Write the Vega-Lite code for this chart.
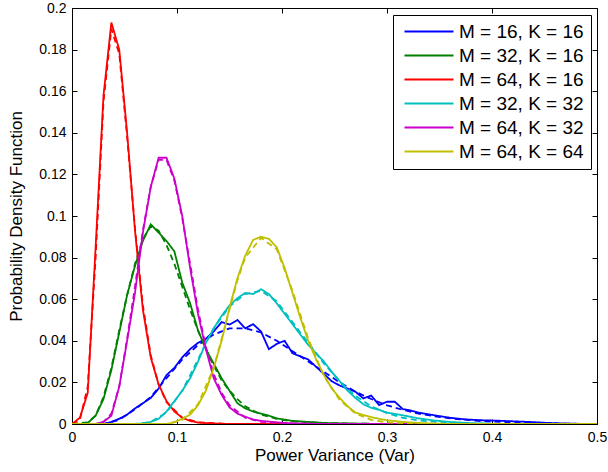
{
  "$schema": "https://vega.github.io/schema/vega-lite/v6.json",
  "width": 525,
  "height": 416,
  "autosize": {"type": "none"},
  "padding": {"left": 72, "top": 8, "right": 11, "bottom": 48},
  "background": "white",
  "config": {
    "font": "Liberation Sans",
    "view": {"stroke": "black", "strokeWidth": 1},
    "axis": {"grid": false, "domain": false, "tickColor": "black", "labelColor": "black", "titleColor": "black", "labelFontSize": 14, "titleFontSize": 17, "titleFontWeight": "normal", "tickSize": -5, "labelFlush": false, "labelOverlap": false}
  },
  "datasets": {
    "pdf": [
      {"s":"M = 16, K = 16","t":"sim","x":0,"y":0},{"s":"M = 16, K = 16","t":"sim","x":0.03,"y":0},{"s":"M = 16, K = 16","t":"sim","x":0.0375,"y":0.001},{"s":"M = 16, K = 16","t":"sim","x":0.045,"y":0.0025},{"s":"M = 16, K = 16","t":"sim","x":0.0525,"y":0.0045},{"s":"M = 16, K = 16","t":"sim","x":0.06,"y":0.0075},{"s":"M = 16, K = 16","t":"sim","x":0.0675,"y":0.01},{"s":"M = 16, K = 16","t":"sim","x":0.075,"y":0.0125},{"s":"M = 16, K = 16","t":"sim","x":0.0825,"y":0.017},{"s":"M = 16, K = 16","t":"sim","x":0.09,"y":0.0235},{"s":"M = 16, K = 16","t":"sim","x":0.0975,"y":0.027},{"s":"M = 16, K = 16","t":"sim","x":0.105,"y":0.032},{"s":"M = 16, K = 16","t":"sim","x":0.1125,"y":0.036},{"s":"M = 16, K = 16","t":"sim","x":0.12,"y":0.039},{"s":"M = 16, K = 16","t":"sim","x":0.1275,"y":0.041},{"s":"M = 16, K = 16","t":"sim","x":0.135,"y":0.0445},{"s":"M = 16, K = 16","t":"sim","x":0.1425,"y":0.049},{"s":"M = 16, K = 16","t":"sim","x":0.15,"y":0.0478},{"s":"M = 16, K = 16","t":"sim","x":0.1575,"y":0.05},{"s":"M = 16, K = 16","t":"sim","x":0.165,"y":0.046},{"s":"M = 16, K = 16","t":"sim","x":0.1725,"y":0.048},{"s":"M = 16, K = 16","t":"sim","x":0.18,"y":0.0445},{"s":"M = 16, K = 16","t":"sim","x":0.1875,"y":0.036},{"s":"M = 16, K = 16","t":"sim","x":0.195,"y":0.0385},{"s":"M = 16, K = 16","t":"sim","x":0.2025,"y":0.04},{"s":"M = 16, K = 16","t":"sim","x":0.21,"y":0.034},{"s":"M = 16, K = 16","t":"sim","x":0.2175,"y":0.0325},{"s":"M = 16, K = 16","t":"sim","x":0.225,"y":0.031},{"s":"M = 16, K = 16","t":"sim","x":0.2325,"y":0.0275},{"s":"M = 16, K = 16","t":"sim","x":0.24,"y":0.024},{"s":"M = 16, K = 16","t":"sim","x":0.2475,"y":0.0205},{"s":"M = 16, K = 16","t":"sim","x":0.255,"y":0.0185},{"s":"M = 16, K = 16","t":"sim","x":0.2625,"y":0.017},{"s":"M = 16, K = 16","t":"sim","x":0.27,"y":0.0155},{"s":"M = 16, K = 16","t":"sim","x":0.2775,"y":0.0123},{"s":"M = 16, K = 16","t":"sim","x":0.285,"y":0.0137},{"s":"M = 16, K = 16","t":"sim","x":0.2925,"y":0.0091},{"s":"M = 16, K = 16","t":"sim","x":0.3,"y":0.0107},{"s":"M = 16, K = 16","t":"sim","x":0.3075,"y":0.0107},{"s":"M = 16, K = 16","t":"sim","x":0.315,"y":0.0072},{"s":"M = 16, K = 16","t":"sim","x":0.3225,"y":0.0065},{"s":"M = 16, K = 16","t":"sim","x":0.33,"y":0.0055},{"s":"M = 16, K = 16","t":"sim","x":0.345,"y":0.0042},{"s":"M = 16, K = 16","t":"sim","x":0.36,"y":0.003},{"s":"M = 16, K = 16","t":"sim","x":0.375,"y":0.0022},{"s":"M = 16, K = 16","t":"sim","x":0.39,"y":0.0018},{"s":"M = 16, K = 16","t":"sim","x":0.405,"y":0.0016},{"s":"M = 16, K = 16","t":"sim","x":0.42,"y":0.0013},{"s":"M = 16, K = 16","t":"sim","x":0.435,"y":0.001},{"s":"M = 16, K = 16","t":"sim","x":0.45,"y":0.0006},{"s":"M = 16, K = 16","t":"sim","x":0.465,"y":0.0003},{"s":"M = 16, K = 16","t":"sim","x":0.48,"y":0.0001},{"s":"M = 16, K = 16","t":"sim","x":0.5,"y":0},
      {"s":"M = 16, K = 16","t":"theory","x":0,"y":0},{"s":"M = 16, K = 16","t":"theory","x":0.03,"y":0},{"s":"M = 16, K = 16","t":"theory","x":0.045,"y":0.002},{"s":"M = 16, K = 16","t":"theory","x":0.06,"y":0.007},{"s":"M = 16, K = 16","t":"theory","x":0.075,"y":0.013},{"s":"M = 16, K = 16","t":"theory","x":0.09,"y":0.022},{"s":"M = 16, K = 16","t":"theory","x":0.105,"y":0.031},{"s":"M = 16, K = 16","t":"theory","x":0.12,"y":0.038},{"s":"M = 16, K = 16","t":"theory","x":0.135,"y":0.043},{"s":"M = 16, K = 16","t":"theory","x":0.15,"y":0.046},{"s":"M = 16, K = 16","t":"theory","x":0.165,"y":0.046},{"s":"M = 16, K = 16","t":"theory","x":0.18,"y":0.044},{"s":"M = 16, K = 16","t":"theory","x":0.195,"y":0.04},{"s":"M = 16, K = 16","t":"theory","x":0.21,"y":0.035},{"s":"M = 16, K = 16","t":"theory","x":0.225,"y":0.03},{"s":"M = 16, K = 16","t":"theory","x":0.24,"y":0.025},{"s":"M = 16, K = 16","t":"theory","x":0.255,"y":0.02},{"s":"M = 16, K = 16","t":"theory","x":0.27,"y":0.0155},{"s":"M = 16, K = 16","t":"theory","x":0.285,"y":0.012},{"s":"M = 16, K = 16","t":"theory","x":0.3,"y":0.009},{"s":"M = 16, K = 16","t":"theory","x":0.315,"y":0.0068},{"s":"M = 16, K = 16","t":"theory","x":0.33,"y":0.005},{"s":"M = 16, K = 16","t":"theory","x":0.345,"y":0.0037},{"s":"M = 16, K = 16","t":"theory","x":0.36,"y":0.0027},{"s":"M = 16, K = 16","t":"theory","x":0.39,"y":0.0014},{"s":"M = 16, K = 16","t":"theory","x":0.42,"y":0.0007},{"s":"M = 16, K = 16","t":"theory","x":0.45,"y":0.0003},{"s":"M = 16, K = 16","t":"theory","x":0.5,"y":0},

      {"s":"M = 32, K = 16","t":"sim","x":0,"y":0},{"s":"M = 32, K = 16","t":"sim","x":0.0075,"y":0},{"s":"M = 32, K = 16","t":"sim","x":0.015,"y":0.0005},{"s":"M = 32, K = 16","t":"sim","x":0.0225,"y":0.004},{"s":"M = 32, K = 16","t":"sim","x":0.03,"y":0.012},{"s":"M = 32, K = 16","t":"sim","x":0.0375,"y":0.026},{"s":"M = 32, K = 16","t":"sim","x":0.045,"y":0.044},{"s":"M = 32, K = 16","t":"sim","x":0.0525,"y":0.062},{"s":"M = 32, K = 16","t":"sim","x":0.06,"y":0.076},{"s":"M = 32, K = 16","t":"sim","x":0.0675,"y":0.088},{"s":"M = 32, K = 16","t":"sim","x":0.075,"y":0.096},{"s":"M = 32, K = 16","t":"sim","x":0.0825,"y":0.092},{"s":"M = 32, K = 16","t":"sim","x":0.09,"y":0.088},{"s":"M = 32, K = 16","t":"sim","x":0.0975,"y":0.083},{"s":"M = 32, K = 16","t":"sim","x":0.105,"y":0.068},{"s":"M = 32, K = 16","t":"sim","x":0.1125,"y":0.058},{"s":"M = 32, K = 16","t":"sim","x":0.12,"y":0.045},{"s":"M = 32, K = 16","t":"sim","x":0.1275,"y":0.036},{"s":"M = 32, K = 16","t":"sim","x":0.135,"y":0.029},{"s":"M = 32, K = 16","t":"sim","x":0.1425,"y":0.022},{"s":"M = 32, K = 16","t":"sim","x":0.15,"y":0.016},{"s":"M = 32, K = 16","t":"sim","x":0.1575,"y":0.01},{"s":"M = 32, K = 16","t":"sim","x":0.165,"y":0.0075},{"s":"M = 32, K = 16","t":"sim","x":0.1725,"y":0.006},{"s":"M = 32, K = 16","t":"sim","x":0.18,"y":0.005},{"s":"M = 32, K = 16","t":"sim","x":0.1875,"y":0.004},{"s":"M = 32, K = 16","t":"sim","x":0.195,"y":0.0027},{"s":"M = 32, K = 16","t":"sim","x":0.21,"y":0.0015},{"s":"M = 32, K = 16","t":"sim","x":0.225,"y":0.001},{"s":"M = 32, K = 16","t":"sim","x":0.24,"y":0.0005},{"s":"M = 32, K = 16","t":"sim","x":0.27,"y":0.0002},{"s":"M = 32, K = 16","t":"sim","x":0.3,"y":0},{"s":"M = 32, K = 16","t":"sim","x":0.5,"y":0},
      {"s":"M = 32, K = 16","t":"theory","x":0,"y":0},{"s":"M = 32, K = 16","t":"theory","x":0.015,"y":0.0008},{"s":"M = 32, K = 16","t":"theory","x":0.0225,"y":0.004},{"s":"M = 32, K = 16","t":"theory","x":0.03,"y":0.013},{"s":"M = 32, K = 16","t":"theory","x":0.0375,"y":0.027},{"s":"M = 32, K = 16","t":"theory","x":0.045,"y":0.045},{"s":"M = 32, K = 16","t":"theory","x":0.0525,"y":0.062},{"s":"M = 32, K = 16","t":"theory","x":0.06,"y":0.077},{"s":"M = 32, K = 16","t":"theory","x":0.0675,"y":0.089},{"s":"M = 32, K = 16","t":"theory","x":0.075,"y":0.095},{"s":"M = 32, K = 16","t":"theory","x":0.0825,"y":0.093},{"s":"M = 32, K = 16","t":"theory","x":0.09,"y":0.086},{"s":"M = 32, K = 16","t":"theory","x":0.0975,"y":0.077},{"s":"M = 32, K = 16","t":"theory","x":0.105,"y":0.066},{"s":"M = 32, K = 16","t":"theory","x":0.1125,"y":0.055},{"s":"M = 32, K = 16","t":"theory","x":0.12,"y":0.045},{"s":"M = 32, K = 16","t":"theory","x":0.1275,"y":0.036},{"s":"M = 32, K = 16","t":"theory","x":0.135,"y":0.028},{"s":"M = 32, K = 16","t":"theory","x":0.1425,"y":0.021},{"s":"M = 32, K = 16","t":"theory","x":0.15,"y":0.016},{"s":"M = 32, K = 16","t":"theory","x":0.1575,"y":0.012},{"s":"M = 32, K = 16","t":"theory","x":0.165,"y":0.0085},{"s":"M = 32, K = 16","t":"theory","x":0.18,"y":0.0045},{"s":"M = 32, K = 16","t":"theory","x":0.195,"y":0.0025},{"s":"M = 32, K = 16","t":"theory","x":0.21,"y":0.0013},{"s":"M = 32, K = 16","t":"theory","x":0.24,"y":0.0004},{"s":"M = 32, K = 16","t":"theory","x":0.3,"y":0},{"s":"M = 32, K = 16","t":"theory","x":0.5,"y":0},

      {"s":"M = 64, K = 16","t":"sim","x":0,"y":0},{"s":"M = 64, K = 16","t":"sim","x":0.0075,"y":0.003},{"s":"M = 64, K = 16","t":"sim","x":0.015,"y":0.015},{"s":"M = 64, K = 16","t":"sim","x":0.0225,"y":0.085},{"s":"M = 64, K = 16","t":"sim","x":0.03,"y":0.158},{"s":"M = 64, K = 16","t":"sim","x":0.0375,"y":0.193},{"s":"M = 64, K = 16","t":"sim","x":0.045,"y":0.18},{"s":"M = 64, K = 16","t":"sim","x":0.0525,"y":0.14},{"s":"M = 64, K = 16","t":"sim","x":0.06,"y":0.093},{"s":"M = 64, K = 16","t":"sim","x":0.0675,"y":0.055},{"s":"M = 64, K = 16","t":"sim","x":0.075,"y":0.032},{"s":"M = 64, K = 16","t":"sim","x":0.0825,"y":0.019},{"s":"M = 64, K = 16","t":"sim","x":0.09,"y":0.011},{"s":"M = 64, K = 16","t":"sim","x":0.0975,"y":0.006},{"s":"M = 64, K = 16","t":"sim","x":0.105,"y":0.003},{"s":"M = 64, K = 16","t":"sim","x":0.1125,"y":0.0015},{"s":"M = 64, K = 16","t":"sim","x":0.12,"y":0.0007},{"s":"M = 64, K = 16","t":"sim","x":0.135,"y":0.0002},{"s":"M = 64, K = 16","t":"sim","x":0.15,"y":0},{"s":"M = 64, K = 16","t":"sim","x":0.5,"y":0},
      {"s":"M = 64, K = 16","t":"theory","x":0,"y":0},{"s":"M = 64, K = 16","t":"theory","x":0.0075,"y":0.002},{"s":"M = 64, K = 16","t":"theory","x":0.015,"y":0.018},{"s":"M = 64, K = 16","t":"theory","x":0.0225,"y":0.08},{"s":"M = 64, K = 16","t":"theory","x":0.03,"y":0.155},{"s":"M = 64, K = 16","t":"theory","x":0.0375,"y":0.19},{"s":"M = 64, K = 16","t":"theory","x":0.045,"y":0.178},{"s":"M = 64, K = 16","t":"theory","x":0.0525,"y":0.138},{"s":"M = 64, K = 16","t":"theory","x":0.06,"y":0.094},{"s":"M = 64, K = 16","t":"theory","x":0.0675,"y":0.057},{"s":"M = 64, K = 16","t":"theory","x":0.075,"y":0.033},{"s":"M = 64, K = 16","t":"theory","x":0.0825,"y":0.019},{"s":"M = 64, K = 16","t":"theory","x":0.09,"y":0.0105},{"s":"M = 64, K = 16","t":"theory","x":0.105,"y":0.003},{"s":"M = 64, K = 16","t":"theory","x":0.12,"y":0.0008},{"s":"M = 64, K = 16","t":"theory","x":0.15,"y":0},{"s":"M = 64, K = 16","t":"theory","x":0.5,"y":0},

      {"s":"M = 32, K = 32","t":"sim","x":0,"y":0},{"s":"M = 32, K = 32","t":"sim","x":0.06,"y":0},{"s":"M = 32, K = 32","t":"sim","x":0.0675,"y":0.0003},{"s":"M = 32, K = 32","t":"sim","x":0.075,"y":0.001},{"s":"M = 32, K = 32","t":"sim","x":0.0825,"y":0.0025},{"s":"M = 32, K = 32","t":"sim","x":0.09,"y":0.006},{"s":"M = 32, K = 32","t":"sim","x":0.0975,"y":0.011},{"s":"M = 32, K = 32","t":"sim","x":0.105,"y":0.016},{"s":"M = 32, K = 32","t":"sim","x":0.1125,"y":0.022},{"s":"M = 32, K = 32","t":"sim","x":0.12,"y":0.03},{"s":"M = 32, K = 32","t":"sim","x":0.1275,"y":0.039},{"s":"M = 32, K = 32","t":"sim","x":0.135,"y":0.046},{"s":"M = 32, K = 32","t":"sim","x":0.1425,"y":0.052},{"s":"M = 32, K = 32","t":"sim","x":0.15,"y":0.057},{"s":"M = 32, K = 32","t":"sim","x":0.1575,"y":0.0605},{"s":"M = 32, K = 32","t":"sim","x":0.165,"y":0.063},{"s":"M = 32, K = 32","t":"sim","x":0.1725,"y":0.0625},{"s":"M = 32, K = 32","t":"sim","x":0.18,"y":0.0648},{"s":"M = 32, K = 32","t":"sim","x":0.1875,"y":0.0625},{"s":"M = 32, K = 32","t":"sim","x":0.195,"y":0.058},{"s":"M = 32, K = 32","t":"sim","x":0.2025,"y":0.053},{"s":"M = 32, K = 32","t":"sim","x":0.21,"y":0.048},{"s":"M = 32, K = 32","t":"sim","x":0.2175,"y":0.043},{"s":"M = 32, K = 32","t":"sim","x":0.225,"y":0.038},{"s":"M = 32, K = 32","t":"sim","x":0.2325,"y":0.034},{"s":"M = 32, K = 32","t":"sim","x":0.24,"y":0.03},{"s":"M = 32, K = 32","t":"sim","x":0.2475,"y":0.025},{"s":"M = 32, K = 32","t":"sim","x":0.255,"y":0.0205},{"s":"M = 32, K = 32","t":"sim","x":0.2625,"y":0.016},{"s":"M = 32, K = 32","t":"sim","x":0.27,"y":0.0125},{"s":"M = 32, K = 32","t":"sim","x":0.2775,"y":0.0095},{"s":"M = 32, K = 32","t":"sim","x":0.285,"y":0.0078},{"s":"M = 32, K = 32","t":"sim","x":0.2925,"y":0.0068},{"s":"M = 32, K = 32","t":"sim","x":0.3,"y":0.0055},{"s":"M = 32, K = 32","t":"sim","x":0.315,"y":0.0042},{"s":"M = 32, K = 32","t":"sim","x":0.33,"y":0.0027},{"s":"M = 32, K = 32","t":"sim","x":0.345,"y":0.0017},{"s":"M = 32, K = 32","t":"sim","x":0.36,"y":0.001},{"s":"M = 32, K = 32","t":"sim","x":0.38,"y":0.0004},{"s":"M = 32, K = 32","t":"sim","x":0.4,"y":0.0001},{"s":"M = 32, K = 32","t":"sim","x":0.5,"y":0},
      {"s":"M = 32, K = 32","t":"theory","x":0,"y":0},{"s":"M = 32, K = 32","t":"theory","x":0.06,"y":0},{"s":"M = 32, K = 32","t":"theory","x":0.075,"y":0.001},{"s":"M = 32, K = 32","t":"theory","x":0.09,"y":0.0055},{"s":"M = 32, K = 32","t":"theory","x":0.105,"y":0.016},{"s":"M = 32, K = 32","t":"theory","x":0.12,"y":0.031},{"s":"M = 32, K = 32","t":"theory","x":0.1275,"y":0.039},{"s":"M = 32, K = 32","t":"theory","x":0.135,"y":0.046},{"s":"M = 32, K = 32","t":"theory","x":0.15,"y":0.0565},{"s":"M = 32, K = 32","t":"theory","x":0.165,"y":0.0625},{"s":"M = 32, K = 32","t":"theory","x":0.18,"y":0.064},{"s":"M = 32, K = 32","t":"theory","x":0.195,"y":0.059},{"s":"M = 32, K = 32","t":"theory","x":0.21,"y":0.049},{"s":"M = 32, K = 32","t":"theory","x":0.225,"y":0.039},{"s":"M = 32, K = 32","t":"theory","x":0.24,"y":0.029},{"s":"M = 32, K = 32","t":"theory","x":0.255,"y":0.0205},{"s":"M = 32, K = 32","t":"theory","x":0.27,"y":0.0135},{"s":"M = 32, K = 32","t":"theory","x":0.285,"y":0.0085},{"s":"M = 32, K = 32","t":"theory","x":0.3,"y":0.0052},{"s":"M = 32, K = 32","t":"theory","x":0.315,"y":0.003},{"s":"M = 32, K = 32","t":"theory","x":0.33,"y":0.0017},{"s":"M = 32, K = 32","t":"theory","x":0.36,"y":0.0005},{"s":"M = 32, K = 32","t":"theory","x":0.4,"y":0},{"s":"M = 32, K = 32","t":"theory","x":0.5,"y":0},

      {"s":"M = 64, K = 32","t":"sim","x":0,"y":0},{"s":"M = 64, K = 32","t":"sim","x":0.0225,"y":0},{"s":"M = 64, K = 32","t":"sim","x":0.03,"y":0.001},{"s":"M = 64, K = 32","t":"sim","x":0.0375,"y":0.004},{"s":"M = 64, K = 32","t":"sim","x":0.045,"y":0.018},{"s":"M = 64, K = 32","t":"sim","x":0.0525,"y":0.04},{"s":"M = 64, K = 32","t":"sim","x":0.06,"y":0.063},{"s":"M = 64, K = 32","t":"sim","x":0.0675,"y":0.092},{"s":"M = 64, K = 32","t":"sim","x":0.075,"y":0.114},{"s":"M = 64, K = 32","t":"sim","x":0.0825,"y":0.128},{"s":"M = 64, K = 32","t":"sim","x":0.09,"y":0.128},{"s":"M = 64, K = 32","t":"sim","x":0.0975,"y":0.118},{"s":"M = 64, K = 32","t":"sim","x":0.105,"y":0.1},{"s":"M = 64, K = 32","t":"sim","x":0.1125,"y":0.075},{"s":"M = 64, K = 32","t":"sim","x":0.12,"y":0.053},{"s":"M = 64, K = 32","t":"sim","x":0.1275,"y":0.036},{"s":"M = 64, K = 32","t":"sim","x":0.135,"y":0.022},{"s":"M = 64, K = 32","t":"sim","x":0.1425,"y":0.014},{"s":"M = 64, K = 32","t":"sim","x":0.15,"y":0.008},{"s":"M = 64, K = 32","t":"sim","x":0.1575,"y":0.005},{"s":"M = 64, K = 32","t":"sim","x":0.165,"y":0.0035},{"s":"M = 64, K = 32","t":"sim","x":0.1725,"y":0.0022},{"s":"M = 64, K = 32","t":"sim","x":0.18,"y":0.0015},{"s":"M = 64, K = 32","t":"sim","x":0.195,"y":0.0008},{"s":"M = 64, K = 32","t":"sim","x":0.21,"y":0.0003},{"s":"M = 64, K = 32","t":"sim","x":0.24,"y":0},{"s":"M = 64, K = 32","t":"sim","x":0.5,"y":0},
      {"s":"M = 64, K = 32","t":"theory","x":0,"y":0},{"s":"M = 64, K = 32","t":"theory","x":0.0225,"y":0},{"s":"M = 64, K = 32","t":"theory","x":0.03,"y":0.001},{"s":"M = 64, K = 32","t":"theory","x":0.0375,"y":0.005},{"s":"M = 64, K = 32","t":"theory","x":0.045,"y":0.018},{"s":"M = 64, K = 32","t":"theory","x":0.0525,"y":0.041},{"s":"M = 64, K = 32","t":"theory","x":0.06,"y":0.066},{"s":"M = 64, K = 32","t":"theory","x":0.0675,"y":0.093},{"s":"M = 64, K = 32","t":"theory","x":0.075,"y":0.114},{"s":"M = 64, K = 32","t":"theory","x":0.0825,"y":0.127},{"s":"M = 64, K = 32","t":"theory","x":0.09,"y":0.127},{"s":"M = 64, K = 32","t":"theory","x":0.0975,"y":0.117},{"s":"M = 64, K = 32","t":"theory","x":0.105,"y":0.099},{"s":"M = 64, K = 32","t":"theory","x":0.1125,"y":0.077},{"s":"M = 64, K = 32","t":"theory","x":0.12,"y":0.055},{"s":"M = 64, K = 32","t":"theory","x":0.1275,"y":0.037},{"s":"M = 64, K = 32","t":"theory","x":0.135,"y":0.024},{"s":"M = 64, K = 32","t":"theory","x":0.1425,"y":0.015},{"s":"M = 64, K = 32","t":"theory","x":0.15,"y":0.009},{"s":"M = 64, K = 32","t":"theory","x":0.165,"y":0.003},{"s":"M = 64, K = 32","t":"theory","x":0.18,"y":0.001},{"s":"M = 64, K = 32","t":"theory","x":0.21,"y":0.0002},{"s":"M = 64, K = 32","t":"theory","x":0.24,"y":0},{"s":"M = 64, K = 32","t":"theory","x":0.5,"y":0},

      {"s":"M = 64, K = 64","t":"sim","x":0,"y":0},{"s":"M = 64, K = 64","t":"sim","x":0.09,"y":0},{"s":"M = 64, K = 64","t":"sim","x":0.0975,"y":0.0008},{"s":"M = 64, K = 64","t":"sim","x":0.105,"y":0.0025},{"s":"M = 64, K = 64","t":"sim","x":0.1125,"y":0.0045},{"s":"M = 64, K = 64","t":"sim","x":0.12,"y":0.009},{"s":"M = 64, K = 64","t":"sim","x":0.1275,"y":0.016},{"s":"M = 64, K = 64","t":"sim","x":0.135,"y":0.027},{"s":"M = 64, K = 64","t":"sim","x":0.1425,"y":0.04},{"s":"M = 64, K = 64","t":"sim","x":0.15,"y":0.056},{"s":"M = 64, K = 64","t":"sim","x":0.1575,"y":0.07},{"s":"M = 64, K = 64","t":"sim","x":0.165,"y":0.081},{"s":"M = 64, K = 64","t":"sim","x":0.1725,"y":0.0885},{"s":"M = 64, K = 64","t":"sim","x":0.18,"y":0.09},{"s":"M = 64, K = 64","t":"sim","x":0.1875,"y":0.089},{"s":"M = 64, K = 64","t":"sim","x":0.195,"y":0.085},{"s":"M = 64, K = 64","t":"sim","x":0.2025,"y":0.075},{"s":"M = 64, K = 64","t":"sim","x":0.21,"y":0.063},{"s":"M = 64, K = 64","t":"sim","x":0.2175,"y":0.051},{"s":"M = 64, K = 64","t":"sim","x":0.225,"y":0.04},{"s":"M = 64, K = 64","t":"sim","x":0.2325,"y":0.031},{"s":"M = 64, K = 64","t":"sim","x":0.24,"y":0.0235},{"s":"M = 64, K = 64","t":"sim","x":0.2475,"y":0.017},{"s":"M = 64, K = 64","t":"sim","x":0.255,"y":0.0125},{"s":"M = 64, K = 64","t":"sim","x":0.2625,"y":0.0085},{"s":"M = 64, K = 64","t":"sim","x":0.27,"y":0.0055},{"s":"M = 64, K = 64","t":"sim","x":0.2775,"y":0.0043},{"s":"M = 64, K = 64","t":"sim","x":0.285,"y":0.0033},{"s":"M = 64, K = 64","t":"sim","x":0.2925,"y":0.0025},{"s":"M = 64, K = 64","t":"sim","x":0.3,"y":0.0018},{"s":"M = 64, K = 64","t":"sim","x":0.315,"y":0.001},{"s":"M = 64, K = 64","t":"sim","x":0.33,"y":0.0005},{"s":"M = 64, K = 64","t":"sim","x":0.36,"y":0},{"s":"M = 64, K = 64","t":"sim","x":0.5,"y":0},
      {"s":"M = 64, K = 64","t":"theory","x":0,"y":0},{"s":"M = 64, K = 64","t":"theory","x":0.09,"y":0},{"s":"M = 64, K = 64","t":"theory","x":0.105,"y":0.002},{"s":"M = 64, K = 64","t":"theory","x":0.12,"y":0.0095},{"s":"M = 64, K = 64","t":"theory","x":0.135,"y":0.027},{"s":"M = 64, K = 64","t":"theory","x":0.15,"y":0.055},{"s":"M = 64, K = 64","t":"theory","x":0.1575,"y":0.069},{"s":"M = 64, K = 64","t":"theory","x":0.165,"y":0.08},{"s":"M = 64, K = 64","t":"theory","x":0.18,"y":0.0895},{"s":"M = 64, K = 64","t":"theory","x":0.195,"y":0.084},{"s":"M = 64, K = 64","t":"theory","x":0.21,"y":0.064},{"s":"M = 64, K = 64","t":"theory","x":0.225,"y":0.041},{"s":"M = 64, K = 64","t":"theory","x":0.24,"y":0.023},{"s":"M = 64, K = 64","t":"theory","x":0.255,"y":0.0115},{"s":"M = 64, K = 64","t":"theory","x":0.27,"y":0.005},{"s":"M = 64, K = 64","t":"theory","x":0.285,"y":0.002},{"s":"M = 64, K = 64","t":"theory","x":0.3,"y":0.0008},{"s":"M = 64, K = 64","t":"theory","x":0.33,"y":0.0001},{"s":"M = 64, K = 64","t":"theory","x":0.36,"y":0},{"s":"M = 64, K = 64","t":"theory","x":0.5,"y":0}
    ]
  },
  "data": {"name": "pdf"},
  "layer": [
    {
      "mark": {"type": "line", "strokeWidth": 1.8, "clip": true},
      "encoding": {
        "x": {"field": "x", "type": "quantitative", "scale": {"domain": [0, 0.5], "nice": false, "zero": false},
              "axis": {"title": "Power Variance (Var)", "values": [0, 0.1, 0.2, 0.3, 0.4, 0.5], "format": "~g", "labelPadding": 11, "titlePadding": 3}},
        "y": {"field": "y", "type": "quantitative", "scale": {"domain": [0, 0.2], "nice": false},
              "axis": {"title": "Probability Density Function", "values": [0, 0.02, 0.04, 0.06, 0.08, 0.1, 0.12, 0.14, 0.16, 0.18, 0.2], "format": "~g", "labelPadding": 11, "titlePadding": 13}},
        "color": {"field": "s", "type": "nominal",
          "scale": {"domain": ["M = 16, K = 16", "M = 32, K = 16", "M = 64, K = 16", "M = 32, K = 32", "M = 64, K = 32", "M = 64, K = 64"],
                    "range": ["#0000FF", "#008000", "#FF0000", "#00BFBF", "#CC00CC", "#BFBF00"]},
          "legend": {"title": null, "orient": "none", "legendX": 321, "legendY": 7, "symbolType": "M-1,0H8.8", "symbolSize": 100, "symbolStrokeWidth": 2, "labelFontSize": 19, "labelColor": "black", "strokeColor": "black", "fillColor": "white", "padding": 7, "labelOffset": 40, "rowPadding": 4}},
        "strokeDash": {"field": "t", "type": "nominal", "scale": {"domain": ["sim", "theory"], "range": [[1, 0], [6, 4]]}, "legend": null}
      }
    },
    {
      "mark": {"type": "point", "opacity": 0},
      "encoding": {
        "x": {"field": "x", "type": "quantitative", "axis": {"orient": "top", "labels": false, "title": null, "values": [0, 0.1, 0.2, 0.3, 0.4, 0.5]}},
        "y": {"field": "y", "type": "quantitative", "axis": {"orient": "right", "labels": false, "title": null, "values": [0, 0.02, 0.04, 0.06, 0.08, 0.1, 0.12, 0.14, 0.16, 0.18, 0.2]}}
      }
    }
  ],
  "resolve": {"axis": {"x": "independent", "y": "independent"}}
}
